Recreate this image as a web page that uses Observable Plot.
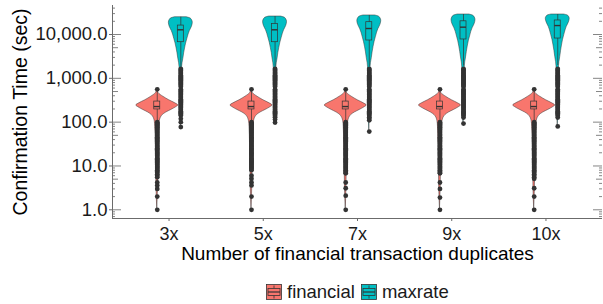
<!DOCTYPE html>
<html><head><meta charset="utf-8">
<script src="https://cdn.jsdelivr.net/npm/d3@7"></script>
<script src="https://cdn.jsdelivr.net/npm/@observablehq/plot@0.6"></script>
<style>
body{margin:0;background:#fff;font-family:"Liberation Sans",Arial,sans-serif;}
#chart{position:relative;width:603px;height:304px;overflow:hidden;}
#chart svg{display:block;}
#legend{position:absolute;left:266px;top:284px;display:flex;align-items:center;font-size:18.5px;color:#1a1a1a;line-height:16px;}
#legend .sw{display:block;margin-right:5px;}
#legend .item{display:flex;align-items:center;margin-right:6px;}
</style></head><body><div id="chart"><div id="legend"></div></div>
<script>
// ---------------- data ----------------
const categories = ["3x", "5x", "7x", "9x", "10x"];
const seriesNames = ["financial", "maxrate"];
const seriesColors = ["#F8766D", "#00BFC4"];
const yTickValues = [1, 10, 100, 1000, 10000];
const xTitle = "Number of financial transaction duplicates";
const yTitle = "Confirmation Time (sec)";

// violin profiles: [seconds, relative density]
const financialViolin = [[562,0],[457,0.07],[380,0.29],[316,0.57],[269,0.86],[240,1.0],[219,0.9],[190,0.67],[166,0.43],[145,0.26],[126,0.17],[105,0.12],[79,0.095],[32,0.07],[10,0.05],[3.2,0.035],[1,0]];
const maxrateViolin3x  = [[24800,0.28],[23400,0.45],[21400,0.53],[18600,0.57],[15100,0.53],[12000,0.43],[10000,0.37],[7900,0.31],[6200,0.25],[4800,0.2],[3700,0.157],[2800,0.12],[2200,0.08],[1500,0.05],[1000,0.035],[400,0.025],[160,0.02],[77,0]];
const maxrateViolin5x  = [[25700,0.28],[24300,0.45],[22200,0.53],[19300,0.57],[15700,0.53],[12500,0.43],[10400,0.37],[8200,0.31],[6400,0.25],[4900,0.2],[3800,0.157],[2850,0.12],[2200,0.08],[1500,0.05],[1000,0.035],[400,0.025],[160,0.02],[98,0]];
const maxrateViolin7x  = [[27200,0.28],[25700,0.45],[23500,0.53],[20400,0.57],[16600,0.53],[13200,0.43],[11000,0.37],[8600,0.31],[6700,0.25],[5100,0.2],[3900,0.157],[2900,0.12],[2250,0.08],[1500,0.05],[1000,0.035],[400,0.025],[160,0.02],[61,0]];
const maxrateViolin9x  = [[28600,0.28],[27000,0.45],[24700,0.53],[21400,0.57],[17400,0.53],[13800,0.43],[11500,0.37],[9000,0.31],[7000,0.25],[5300,0.2],[4000,0.157],[3000,0.12],[2300,0.08],[1550,0.05],[1000,0.035],[400,0.025],[160,0.02],[93,0]];
const maxrateViolin10x = [[28600,0.30],[27500,0.45],[25700,0.53],[22800,0.57],[18900,0.53],[15000,0.43],[12400,0.37],[9700,0.31],[7500,0.25],[5600,0.2],[4200,0.157],[3100,0.12],[2350,0.08],[1550,0.05],[1000,0.035],[400,0.025],[160,0.02],[80,0]];
const maxrateViolins = [maxrateViolin3x, maxrateViolin5x, maxrateViolin7x, maxrateViolin9x, maxrateViolin10x];

// boxplot statistics per category
const financialLo  = [105, 105, 105, 105, 105];
const financialQ1  = [195, 195, 195, 195, 195];
const financialMed = [227, 227, 227, 227, 227];
const financialQ3  = [295, 295, 295, 295, 295];
const financialHi  = [540, 540, 540, 540, 540];
const maxrateLo  = [1780, 1780, 1850, 1900, 1950];
const maxrateQ1  = [6670, 6670, 7300, 7700, 8100];
const maxrateMed = [12800, 12800, 13700, 14700, 16000];
const maxrateQ3  = [16000, 17500, 19100, 20000, 20900];
const maxrateHi  = [24800, 25700, 27200, 28600, 28600];

// outliers
const financialOutliersTop = [560];
const financialOutliersDense = [100,95,90,85,80,76,72,68,64,60,57,54,51,48,45,43,40,38,36,34,32,30,28.5,27,25.5,24,22.5,21,20,19,18,17,16,15,14.2,13.4,12.7,12,11.3,10.7,10,9.5,9,8.5,8];
const financialOutliersTail = [
  [7.5,7,6.5,6,5.5,4.2,3.6,3.0,2.0,1.0],
  [6.0,5.1,4.2,3.6,2.0,1.0],
  [7.5,7,6.8,4.2,3.1,2.1,1.0],
  [7.5,7,6.8,4.2,3.0,1.9,1.0],
  [7.5,7,6.5,6,5.5,5.1,3.1,2.0,1.0]
];
const maxrateOutliersDense = [1650,1560,1480,1400,1320,1250,1180,1120,1060,1000,950,900,850,800,760,720,680,640,560,530,500,470,445,420,395,375,355,335,315,300,283,267,252,238,225,212,200,189,178,168,159,150];
const maxrateOutliersTail = [
  [141,119,100,77],
  [140,130,115,98],
  [140,130,120,110,61],
  [140,127,93],
  [140,127,80]
];

// ---------------- layout ----------------
const W = 603, H = 272, ML = 112, MR = 1, MT = 5, MB = 54;
const xDomain = [-0.6, categories.length - 0.4];
const yDomain = [0.633, 45900];
const pxPerUnit = (W - ML - MR) / (xDomain[1] - xDomain[0]);
const DODGE = 0.125;            // category units
const VIOLIN_HALF = 21 / pxPerUnit;
const BOX_HALF = 3 / pxPerUnit;
const axisColor = "#6b6b6b";
const textColor = "#1a1a1a";
const dark = "#333333";

const cxOf = (i, s) => i + (s === 0 ? -DODGE : DODGE);

const violinRows = [];
categories.forEach((c, i) => {
  [financialViolin, maxrateViolins[i]].forEach((prof, s) => {
    prof.slice().sort((a, b) => a[0] - b[0]).forEach(([v, d]) =>
      violinRows.push({key: c + s, series: seriesNames[s], cx: cxOf(i, s), value: v, density: d}));
  });
});

const boxRows = [];
categories.forEach((c, i) => {
  boxRows.push({series: "financial", cx: cxOf(i, 0), lo: financialLo[i], q1: financialQ1[i], med: financialMed[i], q3: financialQ3[i], hi: financialHi[i]});
  boxRows.push({series: "maxrate", cx: cxOf(i, 1), lo: maxrateLo[i], q1: maxrateQ1[i], med: maxrateMed[i], q3: maxrateQ3[i], hi: maxrateHi[i]});
});

const outlierRows = [];
categories.forEach((c, i) => {
  [...financialOutliersTop, ...financialOutliersDense, ...financialOutliersTail[i]].forEach(v => outlierRows.push({cx: cxOf(i, 0), value: v}));
  [...maxrateOutliersDense, ...maxrateOutliersTail[i]].forEach(v => outlierRows.push({cx: cxOf(i, 1), value: v}));
});

// annotation log ticks (left and right, inside the panel)
const logTickRows = [];
[0.1, 1, 10, 100, 1000, 10000].forEach(dec => {
  [1,2,3,4,5,6,7,8,9].forEach(m => {
    const v = m * dec;
    if (v < yDomain[0] || v > yDomain[1]) return;
    const len = (m === 1 ? 9 : m === 5 ? 6 : 3) / pxPerUnit;
    logTickRows.push({v, x1: xDomain[0], x2: xDomain[0] + len});
    logTickRows.push({v, x1: xDomain[1] - len, x2: xDomain[1]});
  });
});

const chart = Plot.plot({
  width: W, height: H,
  marginLeft: ML, marginRight: MR, marginTop: MT, marginBottom: MB,
  x: {type: "linear", domain: xDomain, axis: null},
  y: {type: "log", domain: yDomain, axis: null},
  color: {domain: seriesNames, range: seriesColors},
  style: {fontFamily: "'Liberation Sans', Arial, sans-serif", background: "white", overflow: "visible"},
  marks: [
    Plot.areaX(violinRows, {
      y: "value",
      x1: d => d.cx - d.density * VIOLIN_HALF,
      x2: d => d.cx + d.density * VIOLIN_HALF,
      z: "key", fill: "series", stroke: dark, strokeWidth: 0.5, curve: "monotone-y"
    }),
    Plot.ruleX(boxRows, {x: "cx", y1: "lo", y2: "hi", stroke: dark, strokeWidth: 0.7}),
    Plot.dot(outlierRows, {x: "cx", y: "value", r: 2.4, fill: dark, stroke: null}),
    Plot.rect(boxRows, {x1: d => d.cx - BOX_HALF, x2: d => d.cx + BOX_HALF, y1: "q1", y2: "q3", fill: "series", stroke: dark, strokeWidth: 0.7}),
    Plot.ruleY(boxRows, {y: "med", x1: d => d.cx - BOX_HALF, x2: d => d.cx + BOX_HALF, stroke: dark, strokeWidth: 1.4}),
    Plot.ruleY(logTickRows, {y: "v", x1: "x1", x2: "x2", stroke: dark, strokeWidth: 0.6}),
    Plot.ruleX([xDomain[0]], {stroke: axisColor, strokeWidth: 1}),
    Plot.ruleY([yDomain[0]], {stroke: axisColor, strokeWidth: 1}),
    Plot.axisY({anchor: "left", ticks: yTickValues, tickFormat: d3.format(",.1f"), tickSize: 3, tickPadding: 2,
      fontSize: 18.5, stroke: axisColor, fill: textColor, label: null}),
    Plot.axisX({anchor: "bottom", ticks: d3.range(categories.length), tickFormat: i => categories[i], tickSize: 3, tickPadding: 6,
      fontSize: 18, stroke: axisColor, fill: textColor, label: null}),
    Plot.text([yTitle], {text: d => d, frameAnchor: "left", dx: -92, rotate: -90, textAnchor: "middle", lineAnchor: "middle", fontSize: 19.5, fill: "#000"}),
    Plot.text([xTitle], {text: d => d, frameAnchor: "bottom", dy: 35, textAnchor: "middle", lineAnchor: "middle", fontSize: 19, fill: "#000"})
  ]
});
const host = document.getElementById("chart");
host.insertBefore(chart, host.firstChild);

// legend (boxplot-style key glyphs)
const legend = document.getElementById("legend");
seriesNames.forEach((name, s) => {
  const col = seriesColors[s];
  const item = document.createElement("div");
  item.className = "item";
  item.innerHTML =
    `<svg class="sw" width="16" height="16" viewBox="0 0 16 16">
       <rect x="0.5" y="0.5" width="15" height="15" fill="${col}" stroke="${dark}" stroke-width="0.8"/>
       <line x1="8" x2="8" y1="1.5" y2="4.5" stroke="${dark}" stroke-width="0.8"/>
       <rect x="2" y="4.5" width="12" height="7" fill="${col}" stroke="${dark}" stroke-width="0.8"/>
       <line x1="2" x2="14" y1="8" y2="8" stroke="${dark}" stroke-width="1.2"/>
       <line x1="8" x2="8" y1="11.5" y2="14.5" stroke="${dark}" stroke-width="0.8"/>
     </svg><span>${name}</span>`;
  legend.appendChild(item);
});
</script>
</body></html>
